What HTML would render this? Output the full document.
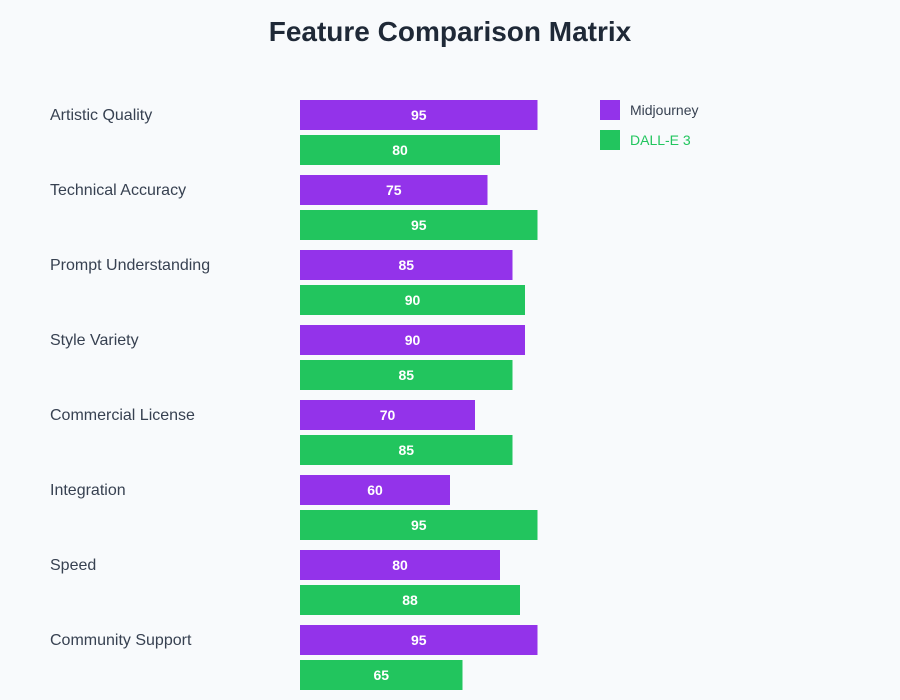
<!DOCTYPE html>
<html><head><meta charset="utf-8"><style>
html,body{margin:0;padding:0;background:#f8fafc;overflow:hidden;width:900px;height:700px;}
svg{display:block;}
</style></head><body>
<svg width="900" height="700" xmlns="http://www.w3.org/2000/svg" font-family="Liberation Sans, sans-serif">
<rect width="900" height="700" fill="#f8fafc"/>
<text x="450" y="41" text-anchor="middle" font-size="28" font-weight="bold" fill="#1f2937">Feature Comparison Matrix</text>
<g font-size="16" fill="#374151">
<text x="50" y="120">Artistic Quality</text>
<text x="50" y="195">Technical Accuracy</text>
<text x="50" y="270">Prompt Understanding</text>
<text x="50" y="345">Style Variety</text>
<text x="50" y="420">Commercial License</text>
<text x="50" y="495">Integration</text>
<text x="50" y="570">Speed</text>
<text x="50" y="645">Community Support</text>
</g>
<g>
<rect x="300" y="100" width="237.5" height="30" fill="#9333ea"/>
<rect x="300" y="135" width="200" height="30" fill="#22c55e"/>
<rect x="300" y="175" width="187.5" height="30" fill="#9333ea"/>
<rect x="300" y="210" width="237.5" height="30" fill="#22c55e"/>
<rect x="300" y="250" width="212.5" height="30" fill="#9333ea"/>
<rect x="300" y="285" width="225" height="30" fill="#22c55e"/>
<rect x="300" y="325" width="225" height="30" fill="#9333ea"/>
<rect x="300" y="360" width="212.5" height="30" fill="#22c55e"/>
<rect x="300" y="400" width="175" height="30" fill="#9333ea"/>
<rect x="300" y="435" width="212.5" height="30" fill="#22c55e"/>
<rect x="300" y="475" width="150" height="30" fill="#9333ea"/>
<rect x="300" y="510" width="237.5" height="30" fill="#22c55e"/>
<rect x="300" y="550" width="200" height="30" fill="#9333ea"/>
<rect x="300" y="585" width="220" height="30" fill="#22c55e"/>
<rect x="300" y="625" width="237.5" height="30" fill="#9333ea"/>
<rect x="300" y="660" width="162.5" height="30" fill="#22c55e"/>
</g>
<g font-size="14" font-weight="bold" fill="#fff" text-anchor="middle">
<text x="418.75" y="120">95</text>
<text x="400" y="155">80</text>
<text x="393.75" y="195">75</text>
<text x="418.75" y="230">95</text>
<text x="406.25" y="270">85</text>
<text x="412.5" y="305">90</text>
<text x="412.5" y="345">90</text>
<text x="406.25" y="380">85</text>
<text x="387.5" y="420">70</text>
<text x="406.25" y="455">85</text>
<text x="375" y="495">60</text>
<text x="418.75" y="530">95</text>
<text x="400" y="570">80</text>
<text x="410" y="605">88</text>
<text x="418.75" y="645">95</text>
<text x="381.25" y="680">65</text>
</g>
<rect x="600" y="100" width="20" height="20" fill="#9333ea"/>
<text x="630" y="115" font-size="14" fill="#374151">Midjourney</text>
<rect x="600" y="130" width="20" height="20" fill="#22c55e"/>
<text x="630" y="145" font-size="14" fill="#22c55e">DALL-E 3</text>
</svg>
</body></html>
